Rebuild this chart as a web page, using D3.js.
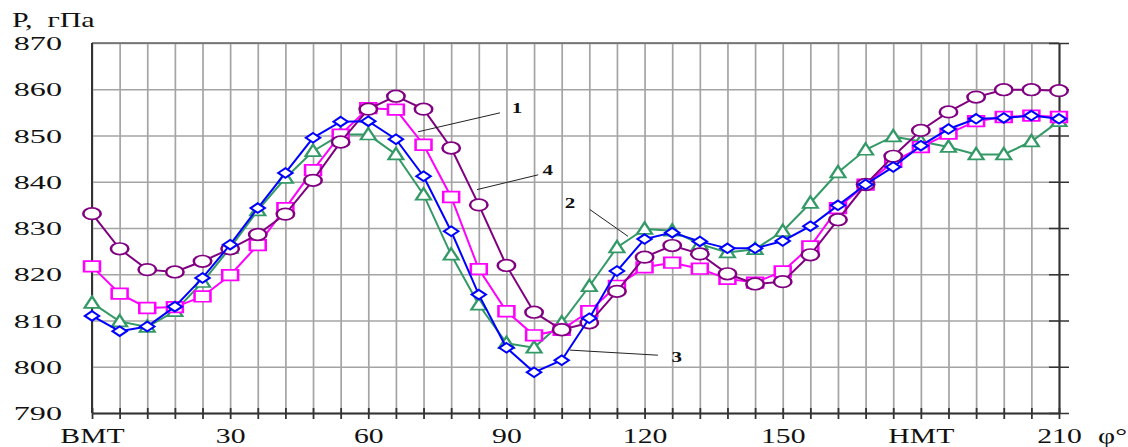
<!DOCTYPE html>
<html>
<head>
<meta charset="utf-8">
<script src="https://cdn.jsdelivr.net/npm/d3@7"></script>
<style>
  body { margin: 0; background: #fff; }
  text { font-family: "Liberation Serif", "Times New Roman", serif; fill: #111; }
</style>
</head>
<body>
<div id="vis"></div>
<script>
var width = 1128, height = 447;
var margin = {top: 43, right: 69, bottom: 34, left: 92};

// crank angle, deg
var angles = [0, 6, 12, 18, 24, 30, 36, 42, 48, 54, 60, 66, 72, 78, 84, 90, 96, 102,
  108, 114, 120, 126, 132, 138, 144, 150, 156, 162, 168, 174, 180, 186, 192, 198, 204, 210];

// curve 1 - squares
var curve1 = [821.7, 815.8, 812.7, 812.9, 815.2, 819.8, 826.3, 834.3, 842.5, 850.2, 855.9, 855.6,
  848.0, 836.7, 821.1, 812.0, 806.8, 808.0, 812.0, 817.5, 821.5, 822.5, 821.2, 819.0,
  818.2, 820.6, 826.0, 834.3, 839.4, 844.3, 847.5, 850.4, 853.1, 854.0, 854.3, 854.0];
// curve 2 - triangles
var curve2 = [813.8, 809.8, 808.6, 812.0, 818.3, 825.7, 833.8, 840.8, 846.6, 850.2, 850.2, 845.9,
  837.2, 824.2, 813.4, 805.1, 804.1, 809.5, 817.4, 825.8, 829.8, 829.4, 826.5, 824.7,
  825.4, 829.3, 835.4, 842.0, 846.9, 849.8, 848.7, 847.5, 845.9, 845.9, 848.7, 853.1];
// curve 3 - diamonds
var curve3 = [811.0, 807.7, 808.7, 813.0, 819.2, 826.4, 834.3, 841.9, 849.5, 853.0, 853.1, 849.2,
  841.2, 829.3, 815.6, 804.1, 798.8, 801.4, 810.5, 820.7, 827.6, 829.0, 827.1, 825.6,
  825.6, 827.2, 830.4, 834.9, 839.4, 843.2, 847.8, 851.4, 853.6, 853.8, 854.3, 853.6];
// curve 4 - circles
var curve4 = [833.1, 825.5, 821.0, 820.5, 822.8, 825.5, 828.6, 833.0, 840.3, 848.6, 855.7, 858.5,
  855.7, 847.3, 835.0, 821.9, 811.8, 808.0, 809.5, 816.3, 823.7, 826.2, 824.4, 820.1,
  817.9, 818.4, 824.2, 831.8, 839.4, 845.5, 851.1, 855.1, 858.3, 859.9, 859.9, 859.7];

var yTicks = [790, 800, 810, 820, 830, 840, 850, 860, 870];
var xLabelTicks = [0, 30, 60, 90, 120, 150, 180, 210];
var xLabelText = {0: "ВМТ", 180: "НМТ"};

// drawing order: green, magenta, purple, blue
var series = [
  {name: "2", values: curve2, color: "#339966", shape: "triangle"},
  {name: "1", values: curve1, color: "#ff00ff", shape: "square"},
  {name: "4", values: curve4, color: "#800080", shape: "circle"},
  {name: "3", values: curve3, color: "#0000ff", shape: "diamond"}
];

// curve number callouts: label point and leader line (deg, hPa)
var callouts = [
  {label: "1", at: [92.3, 856.0], from: [88.6, 854.9], to: [70.8, 850.8]},
  {label: "4", at: [99.0, 842.6], from: [96.9, 841.5], to: [83.6, 838.3]},
  {label: "2", at: [103.8, 835.5], from: [108.1, 834.0], to: [116.4, 828.2]},
  {label: "3", at: [127.0, 802.1], from: [122.9, 802.5], to: [103.8, 803.6]}
];

var x = d3.scaleLinear().domain([0, 210]).range([margin.left, width - margin.right]);
var y = d3.scaleLinear().domain([790, 870]).range([height - margin.bottom, margin.top]);
var x0 = x.range()[0], x1 = x.range()[1], y0 = y.range()[0], y1 = y.range()[1];

var svg = d3.select("#vis").append("svg")
  .attr("width", width).attr("height", height);

// grid
var gridX = svg.append("g")
  .attr("transform", "translate(0," + y0 + ")")
  .call(d3.axisBottom(x).tickValues(angles).tickSize(-(y0 - y1)).tickFormat(""));
gridX.select(".domain").remove();
gridX.selectAll("line").attr("stroke", "#a4a4a4").attr("stroke-width", 1.7);

var gridY = svg.append("g")
  .attr("transform", "translate(" + x0 + ",0)")
  .call(d3.axisLeft(y).tickValues(yTicks).tickSize(-(x1 - x0)).tickFormat(""));
gridY.select(".domain").remove();
gridY.selectAll("line").attr("stroke", "#a4a4a4").attr("stroke-width", 1.5);

// frame
svg.append("line").attr("x1", x0).attr("x2", x1).attr("y1", y1).attr("y2", y1)
  .attr("stroke", "#666").attr("stroke-width", 1.5);
svg.append("line").attr("x1", x0).attr("x2", x0).attr("y1", y1).attr("y2", y0)
  .attr("stroke", "#333").attr("stroke-width", 2);

// bottom axis with small ticks
var xAxis = svg.append("g")
  .attr("transform", "translate(0," + y0 + ")")
  .call(d3.axisBottom(x).tickValues(angles).tickSize(6).tickSizeOuter(0).tickFormat(""));
xAxis.select(".domain").attr("stroke", "#333").attr("stroke-width", 2);
xAxis.selectAll("line").attr("y1", -5).attr("stroke", "#333").attr("stroke-width", 1.8);

// right axis with crossing ticks
var rAxis = svg.append("g")
  .attr("transform", "translate(" + x1 + ",0)")
  .call(d3.axisRight(y).tickValues(yTicks).tickSize(10).tickSizeOuter(0).tickFormat(""));
rAxis.select(".domain").attr("stroke", "#333").attr("stroke-width", 2);
rAxis.selectAll("line").attr("x1", -10).attr("stroke", "#333").attr("stroke-width", 1.5);

// x labels
var sxX = 1.35;
var xLab = svg.append("g")
  .attr("transform", "translate(0," + y0 + ")")
  .call(d3.axisBottom(x).tickValues(xLabelTicks).tickSize(0)
    .tickFormat(function(d) { return xLabelText[d] || d; }));
xLab.select(".domain").remove();
xLab.selectAll("text")
  .attr("y", 30).attr("dy", 0)
  .attr("transform", "scale(" + sxX + ",1)")
  .style("font-size", "22px")
  .style("font-family", "Liberation Serif, serif")
  .attr("fill", "#111");

// y labels
var sxY = 1.65;
var yLab = svg.append("g")
  .attr("transform", "translate(" + x0 + ",0)")
  .call(d3.axisLeft(y).tickValues(yTicks).tickSize(0));
yLab.select(".domain").remove();
yLab.selectAll("text")
  .attr("x", -30 / sxY).attr("dy", "0.34em")
  .attr("transform", "scale(" + sxY + ",1)")
  .style("font-size", "19.5px")
  .style("font-family", "Liberation Serif, serif")
  .attr("fill", "#111");

// axis titles
svg.append("text")
  .attr("transform", "translate(12,27) scale(1.5,1)")
  .attr("xml:space", "preserve")
  .style("white-space", "pre")
  .style("font-size", "20px")
  .text("Р,  гПа");
svg.append("text")
  .attr("transform", "translate(1098," + (y0 + 30) + ") scale(1.35,1)")
  .style("font-size", "22px")
  .text("φ°");

// marker shapes in unscaled units
var shapes = {
  circle: "M-5.8,0A5.8,5.8 0 1,0 5.8,0A5.8,5.8 0 1,0 -5.8,0Z",
  square: "M-5.3,-5.3H5.3V5.3H-5.3Z",
  triangle: "M0,-6.6L5,4.9H-5Z",
  diamond: "M0,-4.8L4.8,0L0,4.8L-4.8,0Z"
};
var mx = 1.5;

var line = d3.line()
  .x(function(d) { return x(d[0]); })
  .y(function(d) { return y(d[1]); });

series.forEach(function(s) {
  var pts = angles.map(function(a, i) { return [a, s.values[i]]; });
  var g = svg.append("g").attr("class", "series");
  g.append("path")
    .datum(pts)
    .attr("d", line)
    .attr("fill", "none")
    .attr("stroke", s.color)
    .attr("stroke-width", 2);
  g.selectAll(".mark")
    .data(pts)
    .enter().append("path")
    .attr("class", "mark")
    .attr("d", shapes[s.shape])
    .attr("transform", function(d) {
      return "translate(" + x(d[0]) + "," + y(d[1]) + ") scale(" + mx + ",1)";
    })
    .attr("fill", "#fff")
    .attr("stroke", s.color)
    .attr("stroke-width", 1.7);
});

// callouts
var co = svg.append("g");
co.selectAll("line")
  .data(callouts)
  .enter().append("line")
  .attr("x1", function(d) { return x(d.from[0]); })
  .attr("y1", function(d) { return y(d.from[1]); })
  .attr("x2", function(d) { return x(d.to[0]); })
  .attr("y2", function(d) { return y(d.to[1]); })
  .attr("stroke", "#222").attr("stroke-width", 1);
co.selectAll("text")
  .data(callouts)
  .enter().append("text")
  .attr("transform", function(d) {
    return "translate(" + x(d.at[0]) + "," + y(d.at[1]) + ") scale(1.4,1)";
  })
  .attr("text-anchor", "middle")
  .attr("dy", "0.35em")
  .style("font-size", "15px")
  .style("font-weight", "bold")
  .text(function(d) { return d.label; });
</script>
</body>
</html>
